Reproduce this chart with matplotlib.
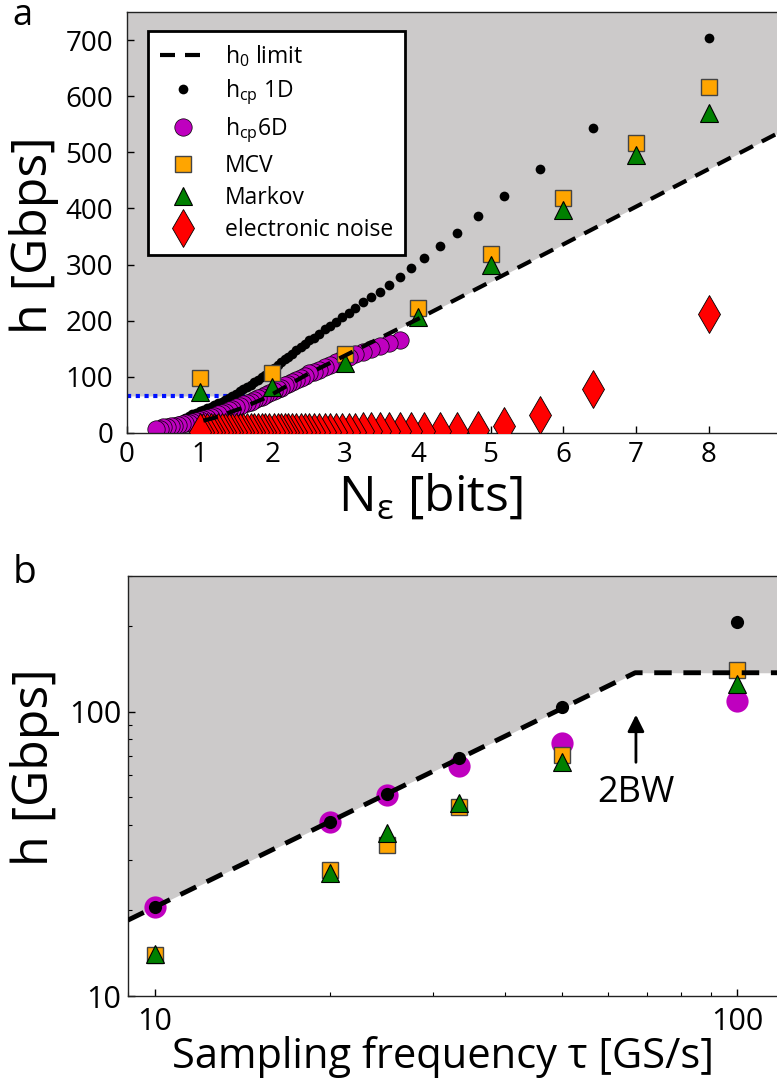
import numpy as np
import matplotlib
matplotlib.use("Agg")
import matplotlib.pyplot as plt
from matplotlib.ticker import NullFormatter, LogLocator

plt.rcParams['font.family'] = ['Open Sans', 'DejaVu Sans']
plt.rcParams['mathtext.fontset'] = 'custom'
plt.rcParams['mathtext.rm'] = 'Open Sans'
plt.rcParams['mathtext.it'] = 'Open Sans'

# ---------------- panel a data : entropy vs bits ----------------
# sparse points (large N) and dense chain (small N), descending order
N_sparse = [8.00, 6.41, 5.68, 5.19, 4.83, 4.54, 4.30, 4.09, 3.91, 3.75]
black_sparse = [703, 544, 470, 422, 386, 356, 333, 311, 294, 278]
noise_sparse = [212, 78, 32, 12, 5, 4, 4, 3, 3, 3]

N_dense = [3.61, 3.48, 3.36, 3.25, 3.14, 3.05, 2.96, 2.87, 2.79, 2.72, 2.64,
           2.57, 2.51, 2.45, 2.39, 2.33, 2.27, 2.22, 2.17, 2.12, 2.07, 2.02,
           1.95, 1.90, 1.85, 1.80, 1.75, 1.70, 1.65, 1.60, 1.55, 1.50, 1.45,
           1.40, 1.35, 1.30, 1.25, 1.20, 1.15, 1.10, 1.05, 1.00, 0.95, 0.90,
           0.85, 0.80, 0.75, 0.70, 0.65, 0.60, 0.55, 0.50, 0.45, 0.40]
black_dense = [264, 252, 242, 233, 223, 214, 206, 198, 191, 185, 177,
               170, 165, 159, 153, 147, 141, 136, 131, 126, 121, 116,
               109, 104, 99, 95, 90, 86, 82, 78, 74, 70, 66,
               63, 59, 56, 53, 50, 47, 44, 41, 39, 36, 33,
               30, 27, 24, 21, 18, 16, 14, 12, 10, 8]
purple_dense = [160, 155, 150, 145, 140, 135, 131, 126, 122, 118, 113,
                109, 106, 102, 98, 95, 91, 88, 85, 81, 78, 75,
                71, 68, 65, 62, 59, 56, 53, 51, 48, 46, 43,
                41, 38, 36, 33, 31, 29, 27, 25, 23, 21, 20,
                18, 17, 16, 15, 13, 12, 11, 10, 8, 7]
# noise only visible for N >= 1
noise_dense = [3, 3, 3, 3, 2, 2, 2, 2, 2, 2, 2,
               2, 2, 2, 2, 2, 2, 2, 2, 2, 2, 2,
               1, 1, 1, 1, 1, 1, 1, 1, 1, 1, 1,
               1, 1, 1, 1, 1, 1, 1, 1, 1]

N_purple_last = [3.75]
purple_last = [165]

N_int = [1, 2, 3, 4, 5, 6, 7, 8]
mcv_a = [98, 107, 141, 222, 318, 418, 516, 616]
markov_a = [73, 82, 125, 206, 299, 397, 496, 570]

h0_N = [1.05, 1.2, 1.57, 1.93, 2.5, 3.0, 4.0, 6.0, 8.95]
h0_a = [22, 27, 44, 64, 106, 138, 203, 336, 534]
blue_N = [0, 1.87]
blue_h = [66, 66]

# ---------------- panel b data : entropy vs sampling rate ----------------
f_b = [10, 20, 25, 33.3, 50, 100]
black_b = [20.5, 41.1, 51.4, 68.7, 103.9, 208]
purple_b = [20.5, 41.0, 51.0, 64.7, 77.6, 109]
mcv_b = [13.9, 27.8, 34.0, 46.3, 70.6, 140.6]
markov_b = [14.0, 27.0, 37.4, 47.8, 66.8, 125]
h0_f = [9, 66.8, 117]
h0_b = [18.5, 137.4, 137.4]

gray = '#cccaca'
purple = '#bf00bf'
orange = '#ffa500'
green = '#008000'
dash = (0, (3.6, 2.4))

fig = plt.figure(figsize=(7.77, 10.92), dpi=100)
axa = fig.add_axes([127/777, 1-433/1092, 650/777, 421/1092])
axb = fig.add_axes([128/777, 1-996/1092, 649/777, 420/1092])

# ---- panel a ----
fx = np.r_[0, h0_N]
fy = np.maximum(np.r_[blue_h[0], h0_a], blue_h[0])
axa.fill_between(fx, fy, 800, color=gray, lw=0, zorder=0)
axa.plot(blue_N, blue_h, color='#0010ff', lw=3, ls=(0, (1, 1.1)), zorder=1)

axa.plot(N_sparse + N_dense, black_sparse + black_dense, 'o', color='k',
         ms=7, mew=0, zorder=2, label=r'h$_\mathregular{cp}$ 1D')
axa.plot(N_purple_last + N_dense, purple_last + purple_dense, 'o', mfc=purple,
         mec='k', mew=0.5, ms=12.5, zorder=2, label=r'h$_\mathregular{cp}$6D')
axa.plot(N_int, mcv_a, 's', mfc=orange, mec='#444444', mew=1, ms=11.5,
         zorder=3, label='MCV')
axa.plot(N_int, markov_a, '^', mfc=green, mec='k', mew=0.8, ms=12.5,
         zorder=3, label='Markov')
axa.plot(N_sparse + N_dense[:len(noise_dense)], noise_sparse + noise_dense, 'd',
         mfc='red', mec='k', mew=0.6, ms=19, zorder=3, label='electronic noise')
axa.plot(h0_N, h0_a, color='k', lw=3, ls=dash, zorder=4,
         label=r'h$_\mathregular{0}$ limit')

axa.set_xlim(0, 8.94)
axa.set_ylim(0, 750)
axa.set_xticks(range(0, 9))
axa.set_yticks(range(0, 800, 100))

h, l = axa.get_legend_handles_labels()
order = [5, 0, 1, 2, 3, 4]
leg = axa.legend([h[i] for i in order], [l[i] for i in order],
                 loc='upper left', bbox_to_anchor=(0.032, 0.955),
                 borderaxespad=0, fontsize=16.5, frameon=True, fancybox=False,
                 framealpha=1, edgecolor='k', handlelength=2.0,
                 handletextpad=0.8, labelspacing=0.36, borderpad=0.55,
                 numpoints=1)
leg.get_frame().set_linewidth(2)

axa.set_xlabel(r'N$_\mathregular{ε}$ [bits]', fontsize=36)
axa.xaxis.set_label_coords(0.466, -0.095)
axa.set_ylabel('h [Gbps]', fontsize=36)
axa.yaxis.set_label_coords(-0.105, 0.47)

# ---- panel b ----
axb.set_xscale('log')
axb.set_yscale('log')
axb.fill_between(h0_f, h0_b, 1000, color=gray, lw=0, zorder=0)
axb.plot(f_b, purple_b, 'o', color=purple, ms=16, mew=0, zorder=2)
axb.plot(f_b, mcv_b, 's', mfc=orange, mec='#444444', mew=1, ms=12, zorder=2)
axb.plot(f_b, markov_b, '^', mfc=green, mec='k', mew=0.8, ms=12.5, zorder=2)
axb.plot(h0_f, h0_b, color='k', lw=3.5, ls=dash, zorder=3)
axb.plot(f_b, black_b, 'o', color='k', ms=9.5, mew=0, zorder=4)

axb.annotate('', xy=(67, 100), xytext=(67, 65),
             arrowprops=dict(arrowstyle='-|>', lw=2, color='k',
                             mutation_scale=25))
axb.text(67, 52, '2BW', fontsize=26, ha='center', va='center')

axb.set_xlim(9, 117)
axb.set_ylim(10, 301)
axb.set_xticks([10, 100])
axb.set_xticklabels(['10', '100'])
axb.set_yticks([10, 100])
axb.set_yticklabels(['10', '100'])
axb.xaxis.set_minor_locator(LogLocator(base=10, subs=np.arange(2, 10)))
axb.yaxis.set_minor_locator(LogLocator(base=10, subs=np.arange(2, 10)))
axb.xaxis.set_minor_formatter(NullFormatter())
axb.yaxis.set_minor_formatter(NullFormatter())

axb.set_xlabel('Sampling frequency τ [GS/s]', fontsize=30)
axb.xaxis.set_label_coords(0.485, -0.095)
axb.set_ylabel('h [Gbps]', fontsize=36)
axb.yaxis.set_label_coords(-0.105, 0.545)

for ax, ls in ((axa, 20), (axb, 22)):
    ax.tick_params(which='major', direction='in', length=5, width=1,
                   labelsize=ls, top=False, right=False)
    ax.tick_params(which='minor', direction='in', length=3, width=0.8,
                   top=False, right=False)
    ax.spines['right'].set_visible(False)
    for s in ('left', 'bottom', 'top'):
        ax.spines[s].set_linewidth(1)
        ax.spines[s].set_color('#222222')
axa.tick_params(axis='y', pad=10)
axa.tick_params(axis='x', pad=6)
axb.tick_params(axis='y', pad=5)
axb.tick_params(axis='x', pad=8)

fig.text(22/777, 1-16/1092, 'a', fontsize=26, ha='center', va='center')
fig.text(24/777, 1-573/1092, 'b', fontsize=28, ha='center', va='center')

fig.savefig('out.png', dpi=100)
